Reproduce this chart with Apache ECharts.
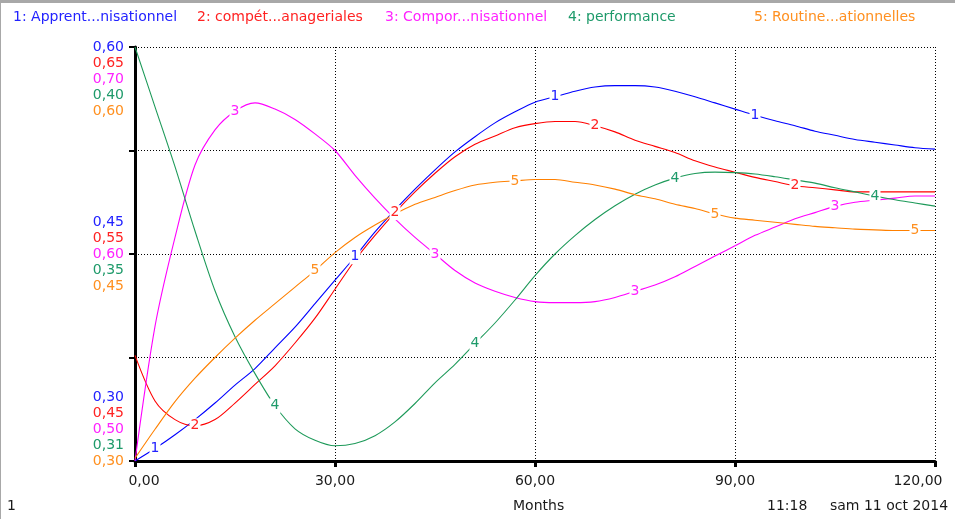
<!DOCTYPE html>
<html>
<head>
<meta charset="utf-8">
<script src="https://cdn.jsdelivr.net/npm/echarts@6/dist/echarts.min.js"></script>
<style>
html,body{margin:0;padding:0;background:#fff;}
#chart{width:955px;height:519px;}
</style>
</head>
<body>
<div id="chart"></div>
<script>
// Time axis (Months)
const months = [0,3,6,9,12,15,18,21,24,27,30,33,36,39,42,45,48,51,54,57,60,63,66,69,72,75,78,81,84,87,90,93,96,99,102,105,108,111,114,117,120];
const xTicks = [0,30,60,90,120];

// Legend names
const seriesNames = [
  "1: Apprent...nisationnel",
  "2: compét...anageriales",
  "3: Compor...nisationnel",
  "4: performance",
  "5: Routine...ationnelles"
];

// Series values
const apprentissage = [0.300,0.309,0.319,0.330,0.342,0.355,0.367,0.382,0.397,0.414,0.431,0.448,0.466,0.482,0.497,0.511,0.524,0.535,0.545,0.553,0.560,0.564,0.568,0.571,0.572,0.572,0.571,0.568,0.564,0.5595,0.555,0.5505,0.5465,0.543,0.539,0.536,0.533,0.531,0.529,0.527,0.526];
const competences = [0.501,0.479,0.470,0.467,0.470,0.478,0.487,0.496,0.507,0.519,0.533,0.547,0.559,0.570,0.580,0.589,0.597,0.603,0.607,0.611,0.613,0.614,0.614,0.612,0.609,0.605,0.602,0.599,0.595,0.592,0.5895,0.587,0.585,0.583,0.582,0.581,0.580,0.580,0.580,0.580,0.580];
const comportement = [0.500,0.565,0.608,0.643,0.660,0.669,0.673,0.670,0.665,0.658,0.650,0.638,0.627,0.617,0.608,0.600,0.592,0.586,0.582,0.579,0.577,0.5765,0.5765,0.577,0.579,0.582,0.585,0.589,0.594,0.599,0.604,0.609,0.613,0.617,0.620,0.623,0.625,0.626,0.627,0.628,0.628];
const performance = [0.400,0.387,0.374,0.360,0.347,0.337,0.329,0.322,0.317,0.3145,0.3133,0.3138,0.3155,0.3185,0.3225,0.327,0.331,0.3355,0.340,0.345,0.3503,0.355,0.359,0.3625,0.3655,0.368,0.370,0.3715,0.3725,0.3728,0.3727,0.3724,0.3718,0.3711,0.3704,0.3694,0.3685,0.3676,0.3668,0.3661,0.3654];
const routines = [0.302,0.323,0.343,0.360,0.375,0.389,0.402,0.414,0.426,0.438,0.451,0.462,0.471,0.479,0.486,0.491,0.496,0.500,0.502,0.503,0.504,0.504,0.502,0.500,0.497,0.493,0.490,0.486,0.483,0.479,0.476,0.4745,0.473,0.4715,0.470,0.469,0.468,0.4675,0.467,0.467,0.467];

// Axis scales for each series (min, middle, max tick labels)
const scaleMin = [0.30, 0.45, 0.50, 0.31, 0.30];
const scaleMid = [0.45, 0.55, 0.60, 0.355, 0.45];
const scaleMax = [0.60, 0.65, 0.70, 0.40, 0.60];

// Months where each line carries its number label
const labelMonths = [
  [3,33,63,93],
  [9,39,69,99],
  [15,45,75,105],
  [21,51,81,111],
  [27,57,87,117]
];

const colors = ['#0000ff','#ff0000','#ff00ff','#1e9a5a','#ff8000'];
const textColors = ['#2222ff','#ff2222','#ff22ff','#1e9a6a','#ff9020'];
const FONT = 'DejaVu Sans, Verdana, sans-serif';
const FS = 14;

const allValues = [apprentissage, competences, comportement, performance, routines];

function fmt(v){ return v.toFixed(2).replace('.', ','); }

const yAxes = [{
  type:'value', min:0, max:4, interval:1, position:'left',
  axisLine:{show:true, lineStyle:{color:'#000', width:3}},
  axisTick:{show:true, length:6, lineStyle:{color:'#000', width:2}},
  axisLabel:{show:false},
  splitLine:{show:true, lineStyle:{color:'#000', width:1, type:[1,2]}}
}];
for (let k=0;k<5;k++){
  yAxes.push({
    type:'value', min:scaleMin[k], max:scaleMax[k], position:'left',
    axisLine:{show:false}, axisTick:{show:false}, splitLine:{show:false},
    axisLabel:{
      show:true, margin:11, fontSize:FS, fontFamily:FONT, color:textColors[k],
      lineHeight:16,
      customValues:[scaleMin[k], scaleMid[k], scaleMax[k]],
      formatter:function(v){
        let shift;
        if (Math.abs(v-scaleMax[k])<1e-9) shift = k;
        else if (Math.abs(v-scaleMin[k])<1e-9) shift = k-4;
        else shift = k-2;
        const n = Math.abs(shift)*2;
        const nl = '\n'.repeat(n);
        return shift>=0 ? nl + fmt(v) : fmt(v) + nl;
      }
    }
  });
}

const series = allValues.map(function(vals,k){
  const mp = labelMonths[k].map(function(t){
    const i = months.indexOf(t);
    return {coord:[months[i], vals[i]]};
  });
  return {
    name: seriesNames[k], type:'line', yAxisIndex:k+1,
    data: months.map(function(t,i){return [t, vals[i]];}),
    symbol:'none', smooth:0.3,
    lineStyle:{color:colors[k], width:1.1},
    itemStyle:{color:colors[k]},
    z: 2,
    markPoint:{
      symbol:'rect', symbolSize:[11,15], z:5,
      itemStyle:{color:'#fff'},
      label:{show:true, position:'inside', formatter:String(k+1), color:textColors[k], fontSize:FS, fontFamily:FONT},
      data: mp
    }
  };
});

const legendLeft = [13, 197, 385, 568, 754];
const titles = seriesNames.map(function(n,k){
  return {text:n, left:legendLeft[k], top:10, padding:0,
    textStyle:{color:textColors[k], fontSize:FS, fontWeight:'normal', fontFamily:FONT}};
});
const bottomStyle = {color:'#1a1a1a', fontSize:FS, fontWeight:'normal', fontFamily:FONT};
titles.push({text:'Months', left:513, top:499, padding:0, textStyle:bottomStyle});
titles.push({text:'11:18', left:767, top:499, padding:0, textStyle:bottomStyle});
titles.push({text:'sam 11 oct 2014', left:830, top:499, padding:0, textStyle:bottomStyle});
titles.push({text:'1', left:7, top:499, padding:0, textStyle:bottomStyle});

const xRich = {
  first:{fontSize:FS, fontFamily:FONT, color:'#1a1a1a', padding:[0,0,0,18]},
  mid:{fontSize:FS, fontFamily:FONT, color:'#1a1a1a'},
  last:{fontSize:FS, fontFamily:FONT, color:'#1a1a1a', padding:[0,34,0,0]}
};

const chart = echarts.init(document.getElementById('chart'), null, {renderer:'canvas'});
chart.setOption({
  animation:false,
  backgroundColor:'#fff',
  title: titles,
  grid:{left:135, right:20, top:47, bottom:58, containLabel:false, outerBoundsMode:'none'},
  xAxis:{
    type:'value', min:0, max:120, interval:30,
    axisLine:{show:true, onZero:false, lineStyle:{color:'#000', width:3}},
    axisTick:{show:true, length:6, lineStyle:{color:'#000', width:3}},
    axisLabel:{show:true, margin:13, fontSize:FS, fontFamily:FONT, color:'#1a1a1a', rich:xRich,
      formatter:function(v){
        const key = v===xTicks[0] ? 'first' : (v===xTicks[xTicks.length-1] ? 'last' : 'mid');
        return '{' + key + '|' + fmt(v) + '}';
      }},
    splitLine:{show:true, lineStyle:{color:'#000', width:1, type:[1,2]}}
  },
  yAxis: yAxes,
  series: series,
  graphic:[
    {type:'rect', left:0, top:0, shape:{width:955, height:3}, style:{fill:'#a8a8a8'}, silent:true},
    {type:'rect', left:0, top:0, shape:{width:1, height:519}, style:{fill:'#a8a8a8'}, silent:true}
  ]
});
</script>
</body>
</html>
